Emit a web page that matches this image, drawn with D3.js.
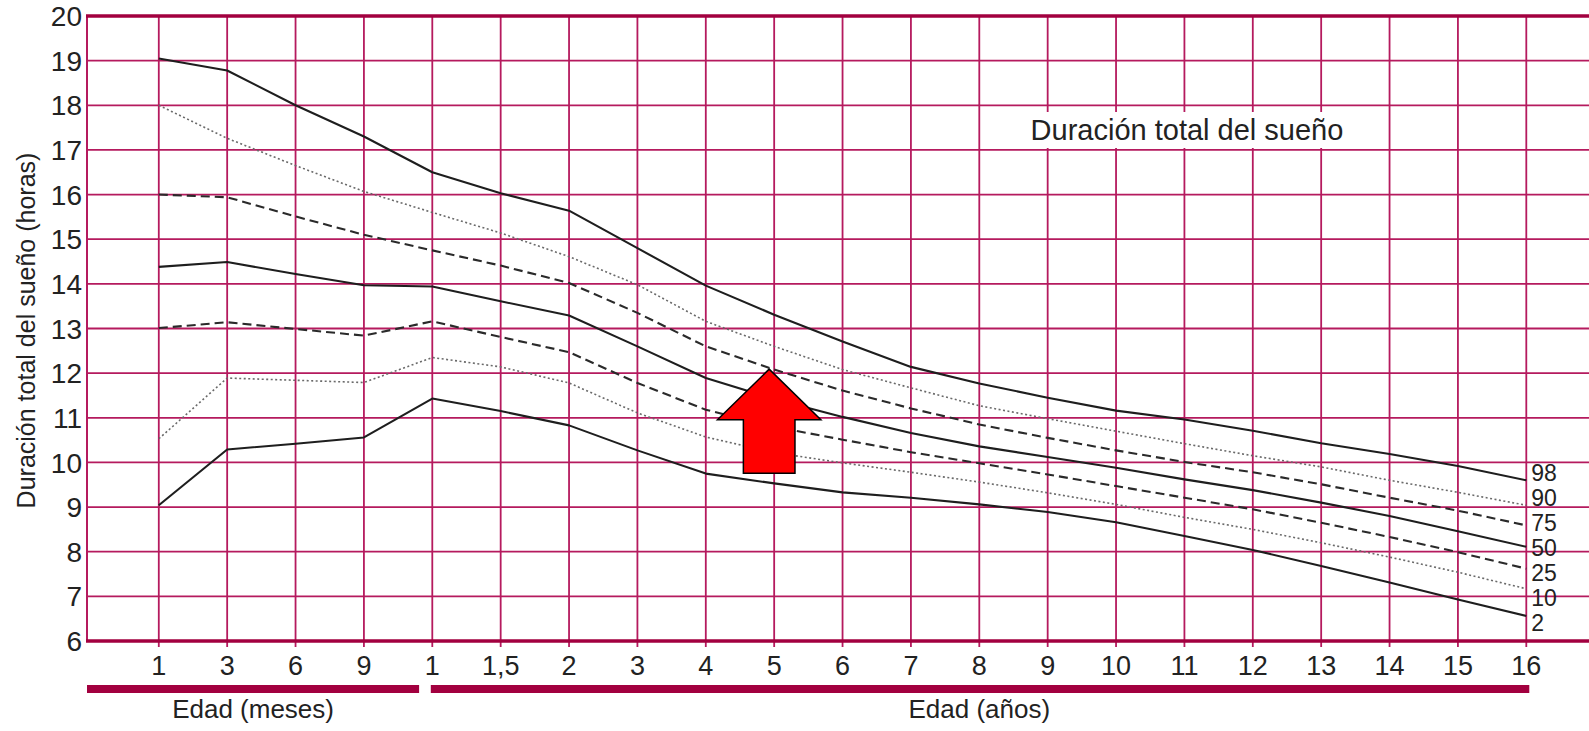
<!DOCTYPE html>
<html>
<head>
<meta charset="utf-8">
<script src="https://cdn.jsdelivr.net/npm/d3@7"></script>
<style>
  html, body { margin: 0; padding: 0; background: #fff; }
  svg { display: block; }
  text { font-family: "Liberation Sans", Arial, Helvetica, sans-serif; fill: #222; }
</style>
</head>
<body>
<svg id="chart" width="1589" height="731"></svg>
<script>
// ---------------- data ----------------
const categories = ["1","3","6","9","1","1,5","2","3","4","5","6","7","8","9","10","11","12","13","14","15","16"];
const monthCount = 4; // first four categories are months
const yTicks = [6,7,8,9,10,11,12,13,14,15,16,17,18,19,20];

const p98 = [19.05,18.78,18.0,17.3,16.5,16.03,15.64,14.8,13.96,13.31,12.71,12.14,11.77,11.45,11.16,10.96,10.71,10.43,10.19,9.92,9.60];
const p90 = [18.0,17.26,16.65,16.07,15.6,15.14,14.61,13.98,13.16,12.6,12.08,11.67,11.27,10.98,10.70,10.42,10.15,9.9,9.6,9.33,9.04];
const p75 = [16.0,15.94,15.51,15.1,14.75,14.41,14.02,13.35,12.6,12.08,11.61,11.21,10.85,10.55,10.27,10.01,9.78,9.51,9.21,8.92,8.59];
const p50 = [14.38,14.49,14.22,13.97,13.94,13.61,13.29,12.6,11.89,11.42,11.02,10.66,10.36,10.12,9.88,9.62,9.38,9.1,8.8,8.46,8.11];
const p25 = [13.01,13.14,12.99,12.84,13.16,12.81,12.47,11.78,11.18,10.8,10.51,10.23,9.98,9.73,9.47,9.21,8.95,8.65,8.33,7.99,7.62];
const p10 = [10.53,11.89,11.84,11.79,12.35,12.14,11.78,11.11,10.57,10.22,9.99,9.78,9.56,9.32,9.06,8.77,8.5,8.2,7.88,7.54,7.17];
const p2  = [9.04,10.29,10.42,10.56,11.43,11.15,10.83,10.27,9.75,9.53,9.33,9.21,9.06,8.89,8.66,8.35,8.04,7.68,7.31,6.93,6.56];

const seriesNames = ["98","90","75","50","25","10","2"];
const seriesValues = [p98, p90, p75, p50, p25, p10, p2];
const seriesStyles = ["solid","dotted","dashed","solid","dashed","dotted","solid"];

const chartTitle = "Duración total del sueño";
const yTitle = "Duración total del sueño (horas)";
const monthsTitle = "Edad (meses)";
const yearsTitle = "Edad (años)";
const arrowCategory = 9;   // "5" años
const arrowValue = 12.09;  // points at P75

// ---------------- layout ----------------
const W = 1589, H = 731;
const mLeft = 87, mTop = 16, mBottom = 641;
const gridColor = "#b51a5e";
const axisColor = "#a2003f";

const svg = d3.select("#chart");

const x = d3.scaleLinear().domain([-1.05, categories.length - 1]).range([mLeft, 1526.3]);
const y = d3.scaleLinear().domain([6, 20]).range([mBottom, mTop]);

// horizontal grid
svg.append("g").selectAll("line").data(yTicks.filter(v => v !== 6 && v !== 20)).join("line")
  .attr("x1", mLeft).attr("x2", W)
  .attr("y1", d => y(d)).attr("y2", d => y(d))
  .attr("stroke", gridColor).attr("stroke-width", 1.8);

// vertical grid (with ticks below axis)
svg.append("g").selectAll("line").data(categories.map((c, i) => i)).join("line")
  .attr("x1", d => x(d)).attr("x2", d => x(d))
  .attr("y1", mTop).attr("y2", mBottom + 6)
  .attr("stroke", gridColor).attr("stroke-width", 1.8);

// left axis line
svg.append("line").attr("x1", mLeft).attr("x2", mLeft).attr("y1", mTop).attr("y2", mBottom)
  .attr("stroke", gridColor).attr("stroke-width", 2);

// top & bottom thick lines
svg.append("g").selectAll("line").data([20, 6]).join("line")
  .attr("x1", mLeft - 1).attr("x2", W)
  .attr("y1", d => y(d)).attr("y2", d => y(d))
  .attr("stroke", axisColor).attr("stroke-width", 3.5);

// y tick labels
svg.append("g").selectAll("text").data(yTicks).join("text")
  .attr("x", 82).attr("y", d => y(d))
  .attr("dy", "0.36em")
  .attr("text-anchor", "end")
  .attr("font-size", 28)
  .text(d => d);

// x tick labels
svg.append("g").selectAll("text").data(categories).join("text")
  .attr("x", (d, i) => x(i)).attr("y", 675)
  .attr("text-anchor", "middle")
  .attr("font-size", 27)
  .text(d => d);

// age bars
const barY = 689;
const splitX = (x(monthCount - 1) + x(monthCount)) / 2;
svg.append("line")
  .attr("x1", mLeft).attr("x2", splitX + 21)
  .attr("y1", barY).attr("y2", barY)
  .attr("stroke", axisColor).attr("stroke-width", 8);
svg.append("line")
  .attr("x1", x(monthCount) - 1.5).attr("x2", x(categories.length - 1) + 3)
  .attr("y1", barY).attr("y2", barY)
  .attr("stroke", axisColor).attr("stroke-width", 8);

svg.append("text")
  .attr("x", (mLeft + splitX + 21) / 2).attr("y", 718)
  .attr("text-anchor", "middle").attr("font-size", 26).text(monthsTitle);
svg.append("text")
  .attr("x", (x(monthCount) + x(categories.length - 1)) / 2).attr("y", 718)
  .attr("text-anchor", "middle").attr("font-size", 26).text(yearsTitle);

// y title
svg.append("text")
  .attr("transform", `translate(35,${(mTop + mBottom) / 2 + 2}) rotate(-90)`)
  .attr("text-anchor", "middle")
  .attr("font-size", 25)
  .text(yTitle);

// chart title with white backing
const tg = svg.append("g");
const tText = tg.append("text")
  .attr("x", 1187).attr("y", 140)
  .attr("text-anchor", "middle")
  .attr("font-size", 29)
  .text(chartTitle);
const bb = tText.node().getBBox();
tg.insert("rect", "text")
  .attr("x", bb.x - 5).attr("y", 112)
  .attr("width", bb.width + 10).attr("height", 36)
  .attr("fill", "#fff");

// percentile lines
const line = d3.line().x((d, i) => x(i)).y(d => y(d)).curve(d3.curveLinear);
const styleAttrs = {
  solid:  { stroke: "#1e1e1e", width: 2.1, dash: null },
  dashed: { stroke: "#2a2a2a", width: 2.1, dash: "9,5" },
  dotted: { stroke: "#6a6a6a", width: 1.6, dash: "2,2.5" }
};
svg.append("g").selectAll("path").data(seriesValues).join("path")
  .attr("d", d => line(d))
  .attr("fill", "none")
  .attr("stroke", (d, i) => styleAttrs[seriesStyles[i]].stroke)
  .attr("stroke-width", (d, i) => styleAttrs[seriesStyles[i]].width)
  .attr("stroke-dasharray", (d, i) => styleAttrs[seriesStyles[i]].dash)
  .attr("stroke-linejoin", "round");

// end labels, spread evenly around the mean of line ends
const ends = seriesValues.map(s => y(s[s.length - 1]));
const meanEnd = d3.mean(ends);
const spacing = 25;
svg.append("g").selectAll("text").data(seriesNames).join("text")
  .attr("x", x(categories.length - 1) + 5)
  .attr("y", (d, i) => meanEnd + (i - (seriesNames.length - 1) / 2) * spacing)
  .attr("dy", "0.36em")
  .attr("font-size", 23)
  .text(d => d);

// red arrow annotation
const ax = x(arrowCategory) - 5, ay = y(arrowValue);
const arrowPts = [[0,0],[51.7,50.7],[25.8,50.7],[25.8,104],[-25.8,104],[-25.8,50.7],[-51.7,50.7]];
svg.append("polygon")
  .attr("points", arrowPts.map(p => [ax + p[0], ay + p[1]].join(",")).join(" "))
  .attr("fill", "#ff0000")
  .attr("stroke", "#000")
  .attr("stroke-width", 1.5)
  .attr("stroke-linejoin", "miter");
</script>
</body>
</html>
